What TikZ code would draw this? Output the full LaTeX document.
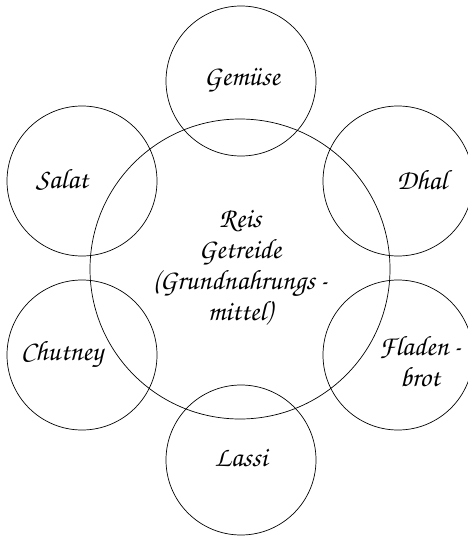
\documentclass[tikz,border=0pt]{standalone}
\usepackage{fontspec}
\newfontfamily\chor{TeX Gyre Chorus}
\begin{document}
\begin{tikzpicture}[x=1pt,y=-1pt,
  bub/.style={circle,draw,line width=0.7pt,inner sep=0pt},
  lab/.style={font=\fontsize{28}{31}\chor,align=center}]
\useasboundingbox (0,0) rectangle (468,538);
\node[bub,minimum size=300pt] (hub) at (240,269) {};
\node[bub,minimum size=150pt] (gem) at (241,81) {};
\node[bub,minimum size=150pt] (las) at (241,460) {};
\node[bub,minimum size=150pt] (sal) at (82,181) {};
\node[bub,minimum size=150pt] (dha) at (398,181) {};
\node[bub,minimum size=150pt] (chu) at (82,355) {};
\node[bub,minimum size=150pt] (fla) at (398,355) {};
\node[lab] (thub) at (240,268) {Reis\\Getreide\\(Grundnahrungs\,-\\mittel)};
\node[lab] (tgem) at (242,80) {Gemüse};
\node[lab] (tlas) at (241,458) {Lassi};
\node[lab] (tsal) at (62,180) {Salat};
\node[lab] (tdha) at (422,180) {Dhal};
\node[lab] (tchu) at (62,354) {Chutney};
\node[lab] (tfla) at (420,362) {Fladen\,-\\brot};
\end{tikzpicture}
\end{document}
